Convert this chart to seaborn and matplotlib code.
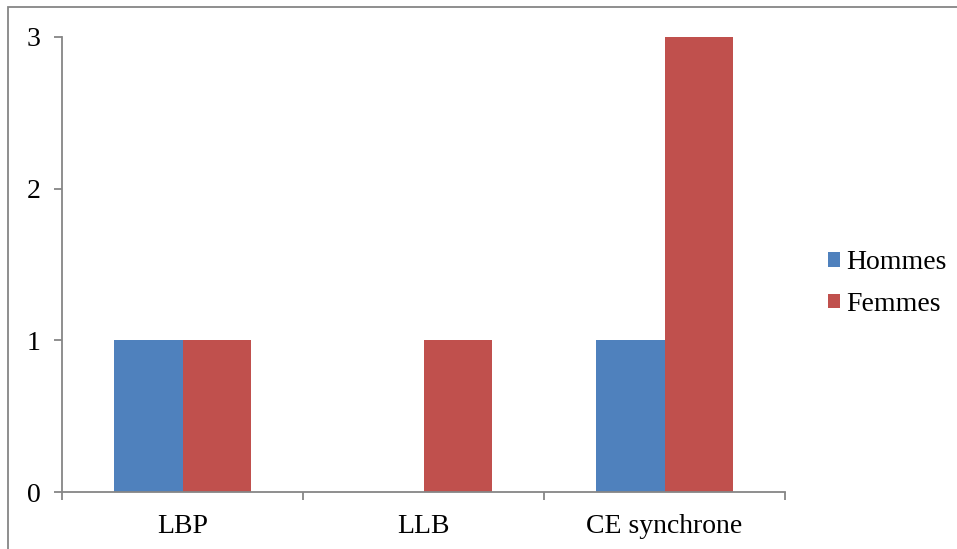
import pandas as pd
import matplotlib
matplotlib.use("Agg")
import matplotlib.pyplot as plt
import seaborn as sns
from matplotlib.patches import Rectangle

categories = ["LBP", "LLB", "CE synchrone"]
hommes = [1, 0, 1]
femmes = [1, 1, 3]
series = ["Hommes", "Femmes"]
colors = ["#4F81BD", "#C0504D"]

df = pd.DataFrame({
    "cat": categories * 2,
    "val": hommes + femmes,
    "sexe": [series[0]] * 3 + [series[1]] * 3,
})

sns.set_style("white")
plt.rcParams["font.family"] = ["Liberation Serif", "DejaVu Serif"]
plt.rcParams["text.color"] = "black"

fig = plt.figure(figsize=(9.57, 5.49), dpi=100)
ax = fig.add_axes([62 / 957, 1 - 492 / 549, (785 - 62) / 957, (492 - 37) / 549])

sns.barplot(data=df, x="cat", y="val", hue="sexe", palette=colors,
            width=0.565, saturation=1, edgecolor="none", linewidth=0, ax=ax)

grey = "#868686"
for s in ["top", "right"]:
    ax.spines[s].set_visible(False)
for s in ["left", "bottom"]:
    ax.spines[s].set_color(grey)
    ax.spines[s].set_linewidth(1.3)

ax.set_xlim(-0.5, 2.5)
ax.set_ylim(0, 3)
ax.set_yticks([0, 1, 2, 3])
ax.set_yticklabels(["0", "1", "2", "3"])
ax.tick_params(axis="y", direction="out", length=6, width=1.3, color=grey,
               labelsize=20, pad=9.5, left=True, labelcolor="black")

# boundary ticks between categories, labels centred on minor ticks
ax.set_xticks([-0.5, 0.5, 1.5, 2.5])
ax.set_xticklabels([])
ax.set_xticks([0, 1, 2], minor=True)
ax.set_xticklabels(categories, minor=True)
ax.tick_params(axis="x", which="major", direction="out", length=6, width=1.3,
               color=grey, bottom=True)
ax.tick_params(axis="x", which="minor", length=0, labelsize=20, pad=16,
               labelcolor="black")
ax.set_xlabel("")
ax.set_ylabel("")

leg = ax.legend(loc="center left", bbox_to_anchor=(766 / 723, 0.458),
                frameon=False, fontsize=20, handlelength=0.42,
                handleheight=0.42, handletextpad=0.25, labelspacing=0.6,
                borderpad=0, borderaxespad=0)

fig.patches.append(Rectangle((8 / 957, -0.1), 1.2, 1 - 7 / 549 + 0.1,
                             transform=fig.transFigure, fill=False,
                             edgecolor=grey, linewidth=1.3))

fig.savefig("out.png", dpi=100)
